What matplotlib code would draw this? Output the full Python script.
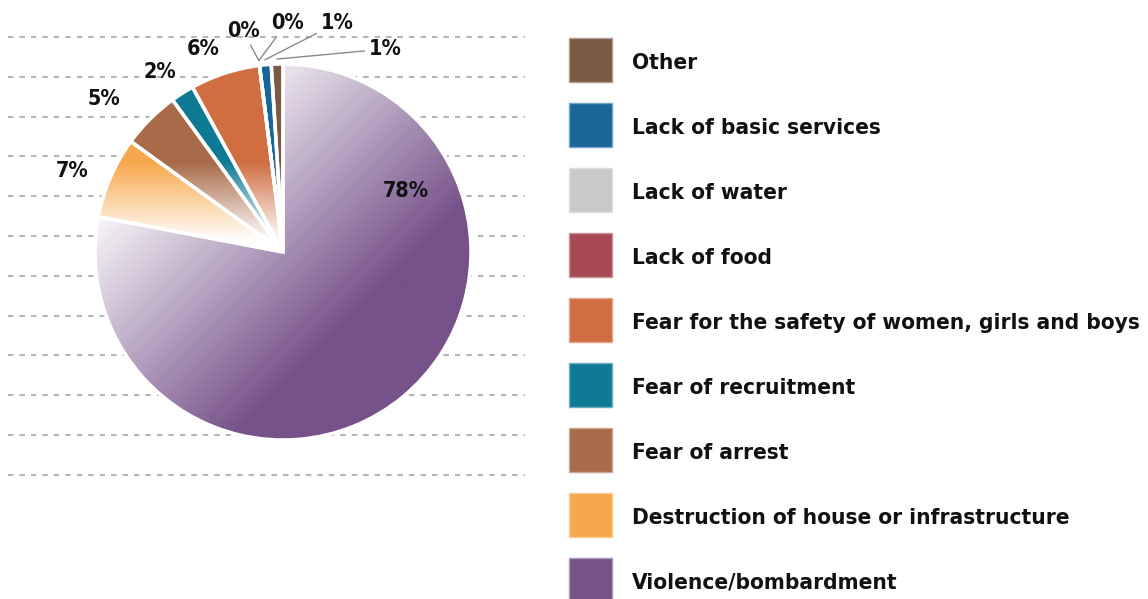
import numpy as np
import matplotlib.pyplot as plt
from matplotlib import patches
from matplotlib.colors import to_rgb

# pie order, clockwise from 12 o'clock
categories = ["Violence/bombardment",
              "Destruction of house or infrastructure",
              "Fear of arrest",
              "Fear of recruitment",
              "Fear for the safety of women, girls and boys",
              "Lack of food",
              "Lack of water",
              "Lack of basic services",
              "Other"]
shares = [78, 7, 5, 2, 6, 0, 0, 1, 1]
colours = ["#76528a", "#f7a84c", "#a86a48", "#0f7a94", "#d06e42",
           "#a84a55", "#c8c9cb", "#1a6699", "#7a5a44"]

W, H = 1148, 599
TXT = dict(family="DejaVu Sans", fontstretch="condensed", fontweight="bold", color="#111111")

fig = plt.figure(figsize=(W / 100, H / 100), dpi=100)
ax = fig.add_axes([0, 0, 1, 1])

# dashed guide lines behind the pie
for k in range(12):
    y = H - (37 + 39.8 * k)
    ax.plot([8, 525], [y, y], color="#b4b4b4", lw=1.5, dashes=(2.6, 2.9), zorder=1)

cx, cy, R = 283, H - 252, 188
wedges, _ = ax.pie(shares, colors=colours, startangle=90, counterclock=False,
                   center=(cx, cy), radius=R,
                   wedgeprops=dict(edgecolor="white", linewidth=2.5, zorder=2))

# gradient fill, clipped to every wedge
n = 500
X, Y = np.meshgrid(np.linspace(-1, 1, n), np.linspace(-1, 1, n))
for i, w in enumerate(wedges):
    rgb = np.array(to_rgb(colours[i]))
    if i == 0:
        # diagonal: white at upper left, full colour at lower right
        s = (X - Y) / np.sqrt(2)
        t = np.clip((s + 0.9) / 1.4, 0, 1)
    else:
        # vertical: full colour at the top, white near the centre
        t = np.clip((Y - 0.06) / 0.42, 0, 1)
    img = 1 - t[..., None] * (1 - rgb)
    im = ax.imshow(img, extent=(cx - R, cx + R, cy - R, cy + R), origin="lower",
                   interpolation="bilinear", zorder=3)
    im.set_clip_path(w)
    ax.add_patch(patches.Wedge(w.center, w.r, w.theta1, w.theta2,
                               fc="none", ec="white", lw=2.5, zorder=4))

# percentage labels
label_xy = [(406, 191), (72, 171), (104, 99), (160, 72), (203, 49),
            (243, 31), (287, 23), (337, 23), (385, 49)]
for i, w in enumerate(wedges):
    lx, ly = label_xy[i]
    txt = f"{shares[i]:.0f}%"
    if shares[i] <= 1:
        a = np.deg2rad((w.theta1 + w.theta2) / 2)
        tip = (cx + (R + 5) * np.cos(a), cy + (R + 5) * np.sin(a))
        ax.annotate(txt, xy=tip, xytext=(lx, H - ly), ha="center", va="center",
                    fontsize=15.5, **TXT,
                    arrowprops=dict(arrowstyle="-", color="#8a8a8a", lw=1,
                                    shrinkA=1, shrinkB=0), zorder=5)
    else:
        ax.text(lx, H - ly, txt, ha="center", va="center", fontsize=15.5, zorder=5, **TXT)

# legend, top to bottom in reverse pie order
for k, i in enumerate(range(len(categories) - 1, -1, -1)):
    yc = 60 + 65 * k
    rgb = np.array(to_rgb(colours[i]))
    ax.add_patch(patches.Rectangle((569, H - yc - 22), 43, 44, fc=colours[i],
                                   ec=tuple(rgb * 0.6 + 0.4), lw=1, zorder=5))
    ax.text(632, H - yc - 9, categories[i], ha="left", va="baseline",
            fontsize=16.2, zorder=5, **TXT)

ax.set_xlim(0, W)
ax.set_ylim(0, H)
ax.set_aspect("auto")
ax.axis("off")

plt.savefig("out.png", dpi=100)
